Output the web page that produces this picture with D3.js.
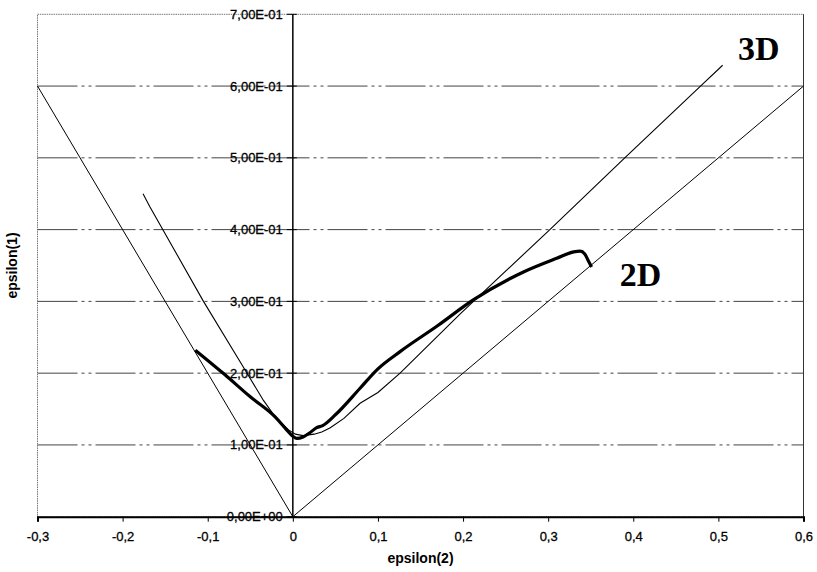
<!DOCTYPE html>
<html>
<head>
<meta charset="utf-8">
<script src="https://cdn.jsdelivr.net/npm/d3@7"></script>
<style>
  body { margin: 0; background: #fff; }
  svg { display: block; }
</style>
</head>
<body>
<div id="chart"></div>
<script>
  // ticks
  var xTicks = [-0.3, -0.2, -0.1, 0, 0.1, 0.2, 0.3, 0.4, 0.5, 0.6];
  var xTickLabels = ["-0,3", "-0,2", "-0,1", "0", "0,1", "0,2", "0,3", "0,4", "0,5", "0,6"];
  var yTicks = [0, 0.1, 0.2, 0.3, 0.4, 0.5, 0.6, 0.7];
  var yTickLabels = ["0,00E+00", "1,00E-01", "2,00E-01", "3,00E-01", "4,00E-01", "5,00E-01", "6,00E-01", "7,00E-01"];

  // straight limit lines
  var leftLineX = [-0.3, 0];
  var leftLineY = [0.6, 0];
  var line2dX = [0, 0.6];
  var line2dY = [0, 0.6];

  // 3D curve (thin)
  var curve3dX = [-0.176, -0.168, -0.105, -0.06, -0.0345, -0.0208, -0.005, 0.003, 0.012, 0.025, 0.034, 0.044, 0.06, 0.079, 0.1, 0.126, 0.197, 0.302, 0.39, 0.479, 0.505];
  var curve3dY = [0.450, 0.432, 0.300, 0.212, 0.162, 0.139, 0.121, 0.115, 0.113, 0.115, 0.118, 0.124, 0.137, 0.158, 0.173, 0.200, 0.283, 0.400, 0.500, 0.600, 0.629];

  // 2D result (thick)
  var curve2dX = [-0.1146, -0.08, -0.05, -0.0208, -0.008, 0.0, 0.0047, 0.012, 0.02, 0.028, 0.035, 0.05, 0.079, 0.1, 0.126, 0.17, 0.212, 0.271, 0.31, 0.33, 0.3376, 0.343, 0.347, 0.351];
  var curve2dY = [0.232, 0.198, 0.167, 0.139, 0.122, 0.112, 0.109, 0.111, 0.117, 0.124, 0.127, 0.142, 0.179, 0.206, 0.230, 0.266, 0.302, 0.341, 0.360, 0.369, 0.370, 0.366, 0.357, 0.348];

  var labels = [{t: "3D", x: 0.523, y: 0.636}, {t: "2D", x: 0.384, y: 0.321}];

  var margin = {top: 14.3, right: 13.5, bottom: 55.3, left: 37.5},
      W = 817, H = 572,
      width = W - margin.left - margin.right,
      height = H - margin.top - margin.bottom;

  var svg = d3.select("#chart").append("svg")
      .attr("width", W)
      .attr("height", H)
    .append("g")
      .attr("transform", "translate(" + margin.left + "," + margin.top + ")");

  var x = d3.scaleLinear().domain([-0.3, 0.6]).range([0, width]);
  var y = d3.scaleLinear().domain([0, 0.7]).range([height, 0]);

  // frame
  svg.append("rect")
    .attr("width", width).attr("height", height)
    .style("fill", "none")
    .style("stroke", "#777")
    .style("stroke-width", 1)
    .style("stroke-dasharray", "1.5,0.8");
  svg.append("line")
    .attr("x1", width).attr("x2", width).attr("y1", 0).attr("y2", height)
    .style("stroke", "#333").style("stroke-width", 1);

  // horizontal grid (dash-dot)
  svg.selectAll(".grid")
    .data(yTicks.filter(function(d) { return d > 0 && d < 0.7; }))
    .enter().append("line")
      .attr("x1", 0).attr("x2", width)
      .attr("y1", function(d) { return y(d); })
      .attr("y2", function(d) { return y(d); })
      .style("stroke", "#444")
      .style("stroke-width", 1)
      .style("stroke-dasharray", "40,4,3,4,3,4");

  // x axis
  var xAxis = d3.axisBottom(x)
    .tickValues(xTicks)
    .tickSize(5)
    .tickPadding(10)
    .tickFormat(function(d, i) { return xTickLabels[i]; });
  var gx = svg.append("g")
    .attr("transform", "translate(0," + height + ")")
    .call(xAxis);
  gx.select(".domain").style("stroke", "#000").style("stroke-width", 2);
  gx.selectAll(".tick line").style("stroke", "#000");
  gx.selectAll("text")
    .style("font-family", "'Liberation Sans', Arial, sans-serif")
    .style("font-size", "13px")
    .style("fill", "#000")
    .style("stroke", "#000")
    .style("stroke-width", 0.3);

  // y axis at x = 0
  var x0 = x(0);
  svg.append("line")
    .attr("x1", x0).attr("x2", x0).attr("y1", 0).attr("y2", height)
    .style("stroke", "#000").style("stroke-width", 1.5);
  var yt = svg.selectAll(".ytick")
    .data(yTicks)
    .enter().append("g")
      .attr("transform", function(d) { return "translate(" + x0 + "," + y(d) + ")"; });
  yt.append("line")
    .attr("x1", -6).attr("x2", 4)
    .style("stroke", "#000").style("stroke-width", 1);
  yt.append("text")
    .attr("x", -10)
    .attr("dy", "0.35em")
    .style("text-anchor", "end")
    .style("font-family", "'Liberation Sans', Arial, sans-serif")
    .style("font-size", "13px")
    .style("stroke", "#000")
    .style("stroke-width", 0.3)
    .text(function(d, i) { return yTickLabels[i]; });

  // lines
  var line = d3.line()
    .x(function(d) { return x(d[0]); })
    .y(function(d) { return y(d[1]); });

  function pts(xs, ys) { return xs.map(function(v, i) { return [v, ys[i]]; }); }

  svg.append("path").datum(pts(leftLineX, leftLineY))
    .attr("d", line).style("fill", "none").style("stroke", "#000").style("stroke-width", 1);
  svg.append("path").datum(pts(line2dX, line2dY))
    .attr("d", line).style("fill", "none").style("stroke", "#000").style("stroke-width", 1);
  svg.append("path").datum(pts(curve3dX, curve3dY))
    .attr("d", line).style("fill", "none").style("stroke", "#000").style("stroke-width", 1.1);
  svg.append("path").datum(pts(curve2dX, curve2dY))
    .attr("d", line.curve(d3.curveMonotoneX))
    .style("fill", "none").style("stroke", "#000").style("stroke-width", 3.2)
    .style("stroke-linejoin", "round");

  // big labels
  svg.selectAll(".biglab")
    .data(labels)
    .enter().append("text")
      .attr("x", function(d) { return x(d.x); })
      .attr("y", function(d) { return y(d.y); })
      .style("font-family", "'Liberation Serif', 'Times New Roman', serif")
      .style("font-weight", "bold")
      .style("font-size", "34px")
      .text(function(d) { return d.t; });

  // axis titles
  svg.append("text")
    .attr("x", width / 2)
    .attr("y", height + 46)
    .style("text-anchor", "middle")
    .style("font-family", "'Liberation Sans', Arial, sans-serif")
    .style("font-weight", "bold")
    .style("font-size", "14px")
    .text("epsilon(2)");
  svg.append("text")
    .attr("transform", "translate(" + (-21) + "," + (height / 2) + ") rotate(-90)")
    .style("text-anchor", "middle")
    .style("font-family", "'Liberation Sans', Arial, sans-serif")
    .style("font-weight", "bold")
    .style("font-size", "14px")
    .text("epsilon(1)");
</script>
</body>
</html>
